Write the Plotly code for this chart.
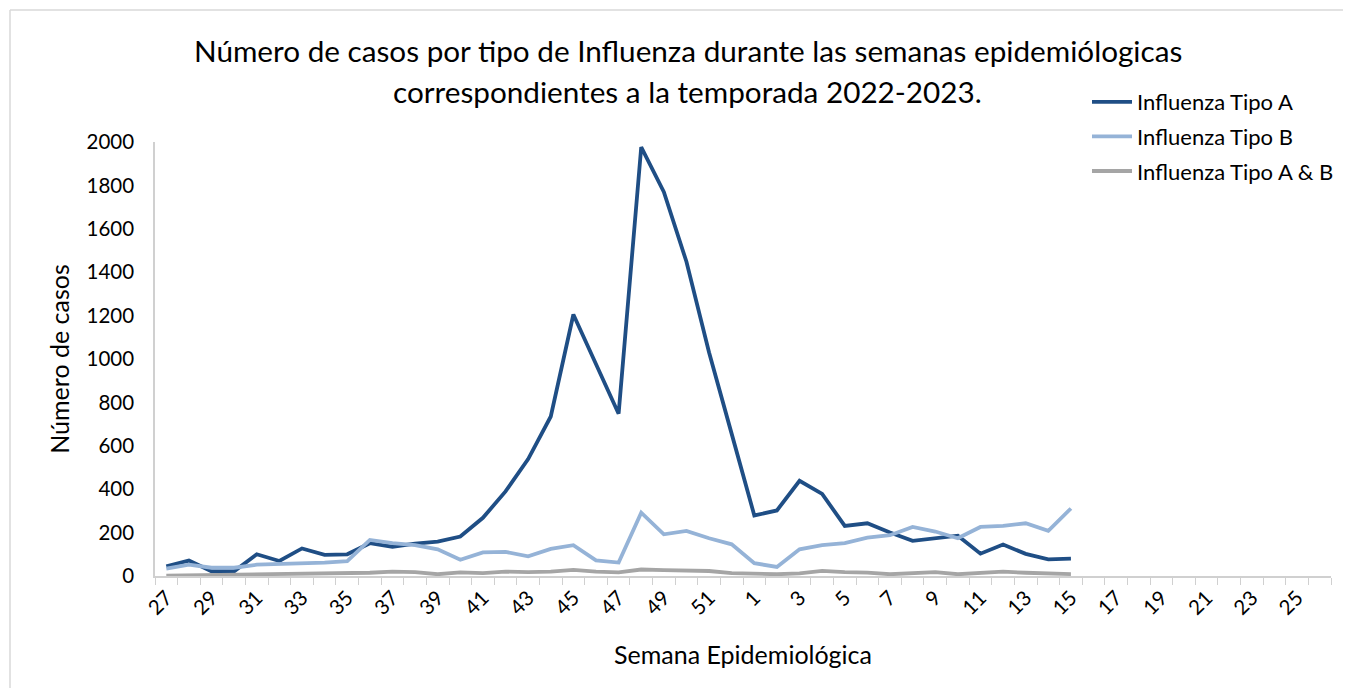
import plotly.graph_objects as go

weeks = [str(w) for w in range(27, 53)] + [str(w) for w in range(1, 27)]
tick_labels = [w if int(w) % 2 == 1 else "" for w in weeks]

tipo_a = [45, 71, 22, 22, 100, 69, 127, 97, 100, 151, 135, 149, 158, 182, 268, 390,
          539, 735, 1205, 975, 748, 1976, 1770, 1448, 1030, 655,
          279, 302, 439, 378, 231, 243, 200, 162, 174, 186, 103, 145, 102, 77, 80]
tipo_b = [34, 52, 38, 38, 52, 55, 61, 62, 69, 166, 152, 142, 123, 75, 109, 111,
          91, 125, 142, 72, 62, 292, 192, 208, 174, 146,
          59, 42, 123, 142, 152, 177, 188, 226, 205, 174, 226, 231, 243, 208, 311]
tipo_ab = [2, 3, 5, 5, 8, 8, 12, 12, 10, 15, 20, 18, 8, 17, 13, 20,
           18, 20, 28, 20, 17, 30, 27, 23, 23, 13,
           12, 8, 12, 24, 18, 16, 8, 15, 18, 8, 12, 20, 15, 13, 9]
title_lines = ["Número de casos por tipo de Influenza durante las semanas epidemiólogicas",
               "correspondientes a la temporada 2022-2023."]

n = len(tipo_a)
font_family = "Lato, 'Open Sans', sans-serif"

W, H = 1335, 680
L, R, T, B = 147, 12, 134, 112
pw, ph = W - L - R, H - T - B

fig = go.Figure()
fig.add_trace(go.Scatter(x=weeks[:n], y=tipo_a, mode="lines", name="Influenza Tipo A",
                         legendgroup="a", line=dict(color="#1F4E85", width=3.8)))
fig.add_trace(go.Scatter(x=weeks[:n], y=tipo_b, mode="lines", name="Influenza Tipo B",
                         legendgroup="b", line=dict(color="#95B3D7", width=3.8)))
fig.add_trace(go.Scatter(x=weeks[:n], y=tipo_ab, mode="lines", name="Influenza Tipo A & B",
                         legendgroup="c", line=dict(color="#A5A5A5", width=3.8)))

title_y = [42, 84]
annotations = [dict(text=t, xref="paper", yref="paper",
                    x=(679.5 - L) / pw, y=1 + (T - yy) / ph,
                    xanchor="center", yanchor="middle", showarrow=False,
                    font=dict(size=29.7, family=font_family, color="black"))
               for t, yy in zip(title_lines, title_y)]

border = dict(color="#D9D9D9", width=1.5)
fig.update_layout(
    width=W, height=H,
    paper_bgcolor="white", plot_bgcolor="white",
    font=dict(family=font_family, color="black", size=20),
    margin=dict(l=L, r=R, t=T, b=B, autoexpand=False),
    annotations=annotations,
    legend=dict(x=(1079 - L) / pw, y=1 + (T - 73) / ph, xanchor="left", yanchor="top",
                font=dict(size=22, family=font_family, color="black"),
                bgcolor="rgba(0,0,0,0)", tracegroupgap=3, itemwidth=40),
    xaxis=dict(type="category", categoryorder="array", categoryarray=weeks,
               tickmode="array", tickvals=weeks, ticktext=tick_labels,
               range=[-0.5, len(weeks) - 0.5],
               tickangle=-45, tickson="boundaries", ticks="outside", ticklen=7,
               tickcolor="#D0D0D0", showline=True, linecolor="#D0D0D0", linewidth=1.5,
               showgrid=False, zeroline=False, tickfont=dict(size=20.5),
               title=dict(text="Semana Epidemiológica", font=dict(size=25), standoff=29)),
    yaxis=dict(range=[0, 2000], dtick=200, showgrid=False, zeroline=False,
               showline=True, linecolor="#D0D0D0", linewidth=1.5, ticks="",
               tickfont=dict(size=20.5), ticklabelstandoff=15,
               title=dict(text="Número de casos", font=dict(size=25), standoff=10)),
    shapes=[
        dict(type="line", xref="paper", yref="paper",
             x0=(2 - L) / pw, x1=(2 - L) / pw, y0=-5, y1=1 + (T - 2) / ph, line=border),
        dict(type="line", xref="paper", yref="paper",
             x0=(2 - L) / pw, x1=5, y0=1 + (T - 2) / ph, y1=1 + (T - 2) / ph, line=border),
    ],
)

fig.write_html("out.html")
